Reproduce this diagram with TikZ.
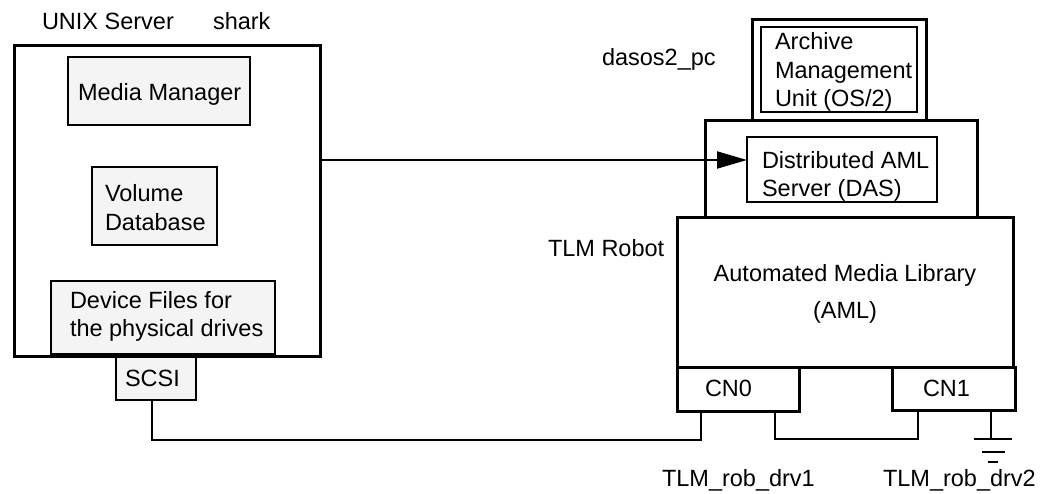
\documentclass[tikz,border=0pt]{standalone}
\usepackage{fontspec}
\setmainfont{Liberation Sans}
\usetikzlibrary{arrows.meta}
\definecolor{boxgray}{HTML}{F4F4F4}
\begin{document}
\begin{tikzpicture}[x=1pt,y=-1pt,
  every node/.style={font=\fontsize{23.5}{28.5}\selectfont, inner sep=0pt, outer sep=0pt},
  bigbox/.style={draw, line width=3pt, rectangle, anchor=north west},
  graybox/.style={draw, line width=2pt, rectangle, anchor=north west, fill=boxgray},
  whitebox/.style={draw, line width=2pt, rectangle, anchor=north west},
  lbl/.style={anchor=base west, align=left},
  wire/.style={line width=2pt},
]
\useasboundingbox[fill=white] (0,0) rectangle (1049,493);

% left server
\node[bigbox, minimum width=306pt, minimum height=311pt] (unix) at (14,45) {};
\node[graybox, minimum width=182pt, minimum height=68pt] (mm) at (68,57) {};
\node[graybox, minimum width=125pt, minimum height=78pt] (vdb) at (92,167) {};
\node[graybox, minimum width=224pt, minimum height=73pt] (dev) at (51,281) {};
\node[bigbox, fill=boxgray, line width=2.7pt, minimum width=80pt, minimum height=43pt] (scsi) at (116,357) {};

\node[lbl] (tunix) at (42,29.5) {UNIX Server};
\node[lbl] (tshark) at (213,29.5) {shark};
\node[lbl] (tmm) at (78,100) {Media Manager};
\node[lbl] (tvdb) at (105,230) {Volume\\Database};
\node[lbl] (tdev) at (70,336.7) {Device Files for\\the physical drives};
\node[lbl] (tscsi) at (125,386.5) {SCSI};

% right side
\node[bigbox, minimum width=174pt, minimum height=101pt] (amuo) at (752,19) {};
\node[whitebox, minimum width=156pt, minimum height=85pt] (amu) at (761,27) {};
\node[bigbox, minimum width=272pt, minimum height=97pt] (daso) at (705,120) {};
\node[whitebox, minimum width=190pt, minimum height=65pt] (das) at (747,137) {};
\node[bigbox, minimum width=336pt, minimum height=150pt] (aml) at (677,217) {};
\node[bigbox, minimum width=122pt, minimum height=44pt] (cn0) at (677,367) {};
\node[bigbox, minimum width=123pt, minimum height=43pt] (cn1) at (892,367) {};

\node[lbl] (tdasos) at (602,65) {dasos2\_pc};
\node[lbl] (tamu) at (775,106.7) {Archive\\Management\\Unit (OS/2)};
\node[lbl] (tdas) at (762,196.7) {Distributed AML\\Server (DAS)};
\node[lbl] (trobot) at (548,256.7) {TLM Robot};
\node[anchor=base, align=center] (taml) at (845,318.3) {Automated Media Library\\[8pt](AML)};
\node[lbl] (tcn0) at (705,396) {CN0};
\node[lbl] (tcn1) at (923,396) {CN1};
\node[lbl] (tdrv1) at (662,486) {TLM\_rob\_drv1};
\node[lbl] (tdrv2) at (883,486) {TLM\_rob\_drv2};

% connectors
\coordinate (ay) at (500,160);
\draw[wire, -{Triangle[length=30pt,width=17pt]}] (unix.east |- ay) -- (das.west |- ay);

\coordinate (s1) at (152,440);
\coordinate (s2) at (701,440);
\draw[wire] (scsi.south -| s1) -- (s1) -- (s2) -- (s2 |- cn0.south);

\coordinate (d1) at (775,439);
\coordinate (d2) at (918,439);
\draw[wire] (cn0.south -| d1) -- (d1) -- (d2) -- (d2 |- cn1.south);

\coordinate (gnd) at (991,439);
\draw[wire] (gnd |- cn1.south) -- (gnd);
\draw[wire] (974,439) -- (1012,439);
\draw[wire] (982,452) -- (1005,452);
\draw[wire] (988,462) -- (998,462);
\end{tikzpicture}
\end{document}
